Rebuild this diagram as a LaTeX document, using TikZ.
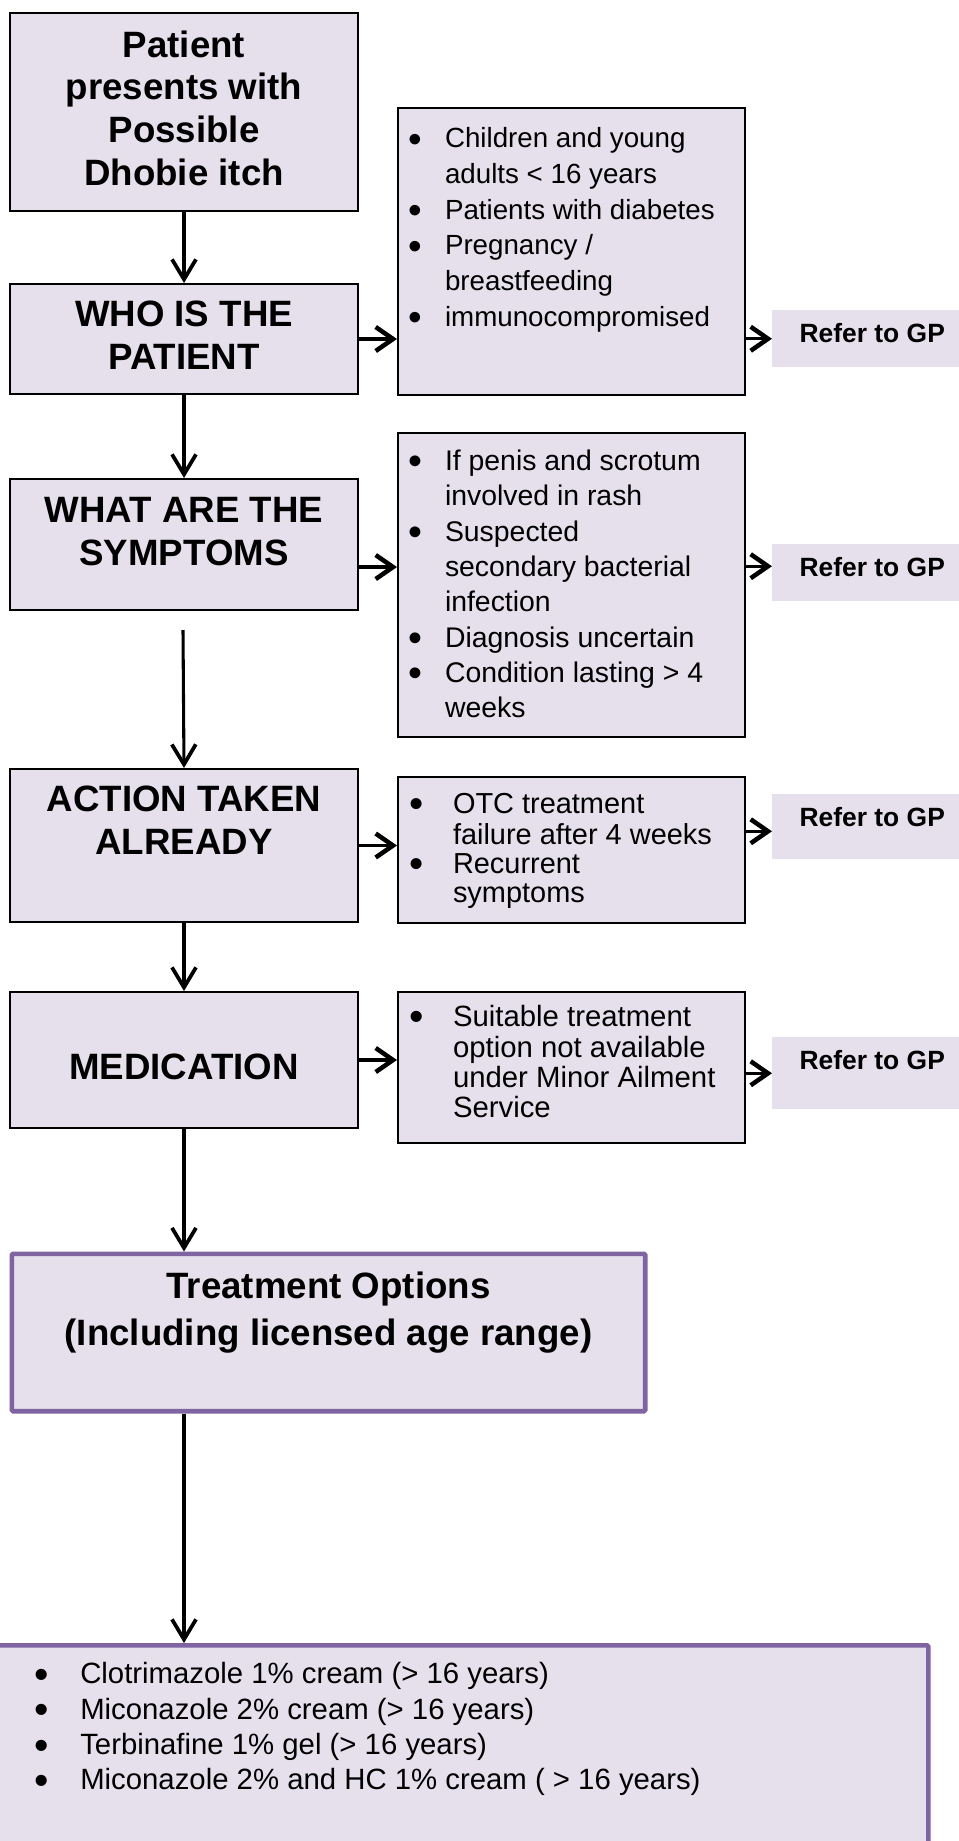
\documentclass[tikz,border=0pt]{standalone}
\usepackage{fontspec}
\usepackage{graphicx}
\setmainfont{Liberation Sans}
\usetikzlibrary{arrows.meta,positioning}
\definecolor{lilac}{HTML}{E5E0EC}
\definecolor{plum}{HTML}{8064A2}
\newlength{\itemInd}
\newlength{\dotInd}
\newcommand{\bigDot}{\raisebox{-0.16em}[0pt][0pt]{\scalebox{1.4}{\textbullet}}}
\newcommand{\bitem}[1]{\par\hangindent=\itemInd\hangafter=1\noindent\strut\makebox[\itemInd][l]{\hspace{\dotInd}\bigDot}#1\par}
\newcommand{\listBody}[4]{\parbox[c][#2][t]{#1}{\vspace*{#3}#4}}
\newcommand{\flowDown}{\draw[downArrow]}
\newcommand{\flowSide}{\draw[sideArrow]}

\begin{document}
\begin{tikzpicture}[x=0.75pt,y=-0.75pt,
    questionBox/.style={draw=black, line width=1.5pt, fill=lilac, anchor=north west,
      minimum width=261pt, inner sep=0pt, align=center,
      font=\fontsize{27.5}{32}\selectfont\bfseries},
    listBox/.style={draw=black, line width=1.5pt, fill=lilac, anchor=north west, inner sep=0pt},
    referBox/.style={fill=lilac, anchor=north west, minimum width=150pt, inner xsep=0pt,
      inner ysep=4.35pt, text height=20pt, font=\fontsize{19.8}{24}\selectfont\bfseries},
    optionBox/.style={draw=plum, line width=3.4pt, fill=lilac, anchor=north west,
      rounded corners=1pt, inner sep=0pt},
    downArrow/.style={line width=2.3pt, -{Straight Barb[length=15pt,width=18pt,line width=2.8pt]}},
    sideArrow/.style={line width=2.5pt, -{Straight Barb[length=13pt,width=18pt,line width=3.4pt]}}]

      \useasboundingbox (0,0) rectangle (958,1841);

      % left column: the questions asked, top to bottom
      \node[questionBox, minimum height=148.5pt] (patient) at (9,12) {Patient\\presents with\\Possible\\Dhobie itch\\[-26pt]\mbox{}};
      \node[questionBox, minimum height=82.5pt] (who) at (9,283) {WHO IS THE\\PATIENT\\[-26pt]\mbox{}};
      \node[questionBox, minimum height=98.25pt] (symptoms) at (9,478) {WHAT ARE THE\\SYMPTOMS\\[-12pt]\mbox{}};
      \node[questionBox, minimum height=114.75pt] (action) at (9,768) {ACTION TAKEN\\ALREADY\\[6pt]\mbox{}};
      \node[questionBox, minimum height=102pt, text height=28.5pt, text depth=0pt] (medication) at (9,991) {MEDICATION};

      % middle column: reasons to refer
      \node[listBox, font=\fontsize{20.8}{26.8}\selectfont] (whoList) at (397,107)
        {\listBody{260.25pt}{215.25pt}{11pt}{\setlength{\itemInd}{35.25pt}\setlength{\dotInd}{7.7pt}%
          \bitem{Children and young\\adults < 16 years}
          \bitem{Patients with diabetes}
          \bitem{Pregnancy /\\breastfeeding}
          \bitem{immunocompromised}}};
      \node[listBox, font=\fontsize{21.3}{26.5}\selectfont] (symptomList) at (397,432)
        {\listBody{260.25pt}{228pt}{9.5pt}{\setlength{\itemInd}{35.25pt}\setlength{\dotInd}{7.7pt}%
          \bitem{If penis and scrotum\\involved in rash}
          \bitem{Suspected\\secondary bacterial\\infection}
          \bitem{Diagnosis uncertain}
          \bitem{Condition lasting > 4\\weeks}}};
      \node[listBox, font=\fontsize{21.7}{21.7}\selectfont] (actionList) at (397,776)
        {\listBody{260.25pt}{109.5pt}{12pt}{\setlength{\itemInd}{41.25pt}\setlength{\dotInd}{8.6pt}%
          \bitem{OTC treatment\\failure after 4 weeks}
          \bitem{Recurrent\\symptoms}}};
      \node[listBox, font=\fontsize{22}{22.3}\selectfont] (medList) at (397,991)
        {\listBody{260.25pt}{113.25pt}{9.75pt}{\setlength{\itemInd}{41.25pt}\setlength{\dotInd}{8.6pt}%
          \bitem{Suitable treatment\\option not available\\under Minor Ailment\\Service}}};

      % right column: label sits high in its box
      \node[referBox, text depth=14.05pt] (whoGP) at (772,310) {Refer to GP};
      \node[referBox, text depth=14.05pt] (symptomGP) at (772,544) {Refer to GP};
      \node[referBox, text depth=20.05pt] (actionGP) at (772,794) {Refer to GP};
      \node[referBox, text depth=25.3pt] (medGP) at (772,1037) {Refer to GP};

      % bottom: what can be given
      \node[optionBox, minimum width=475.1pt, minimum height=118.1pt, align=center,
        font=\fontsize{27.5}{35}\selectfont\bfseries] (treatment) at (9.5,1251.5)
        {Treatment Options\\(Including licensed age range)\\[1pt]\mbox{}};
      \node[optionBox, font=\fontsize{22}{26.6}\selectfont] (options) at (-10,1643)
        {\listBody{702pt}{192.75pt}{10.1pt}{\setlength{\itemInd}{66pt}\setlength{\dotInd}{31.5pt}%
          \bitem{Clotrimazole 1\% cream (> 16 years)}
          \bitem{Miconazole 2\% cream (> 16 years)}
          \bitem{Terbinafine 1\% gel (> 16 years)}
          \bitem{Miconazole 2\% and HC 1\% cream ( > 16 years)}}};

      \coordinate (restart) at (183,630);

      \flowDown (patient.south) -- (who.north);
      \flowDown (who.south) -- (symptoms.north);
      \flowDown (restart) -- (action.north);
      \flowDown (action.south) -- (medication.north);
      \flowDown (medication.south) -- (medication.south |- treatment.north);
      \flowDown (medication.south |- treatment.south) -- (medication.south |- options.north);

      \flowSide (who.east) -- (who.east -| whoList.west);
      \flowSide (whoGP.west -| whoList.east) -- (whoGP.west);
      \flowSide ([yshift=-16.9pt]symptoms.east) -- ([yshift=-16.9pt]symptoms.east -| symptomList.west);
      \flowSide ([yshift=4.9pt]symptomGP.west -| symptomList.east) -- ([yshift=4.9pt]symptomGP.west);
      \flowSide (action.east) -- (action.east -| actionList.west);
      \flowSide ([yshift=-3.4pt]actionGP.west -| actionList.east) -- ([yshift=-3.4pt]actionGP.west);
      \flowSide (medication.east) -- (medication.east -| medList.west);
      \flowSide (medGP.west -| medList.east) -- (medGP.west);

    \end{tikzpicture}
\end{document}
